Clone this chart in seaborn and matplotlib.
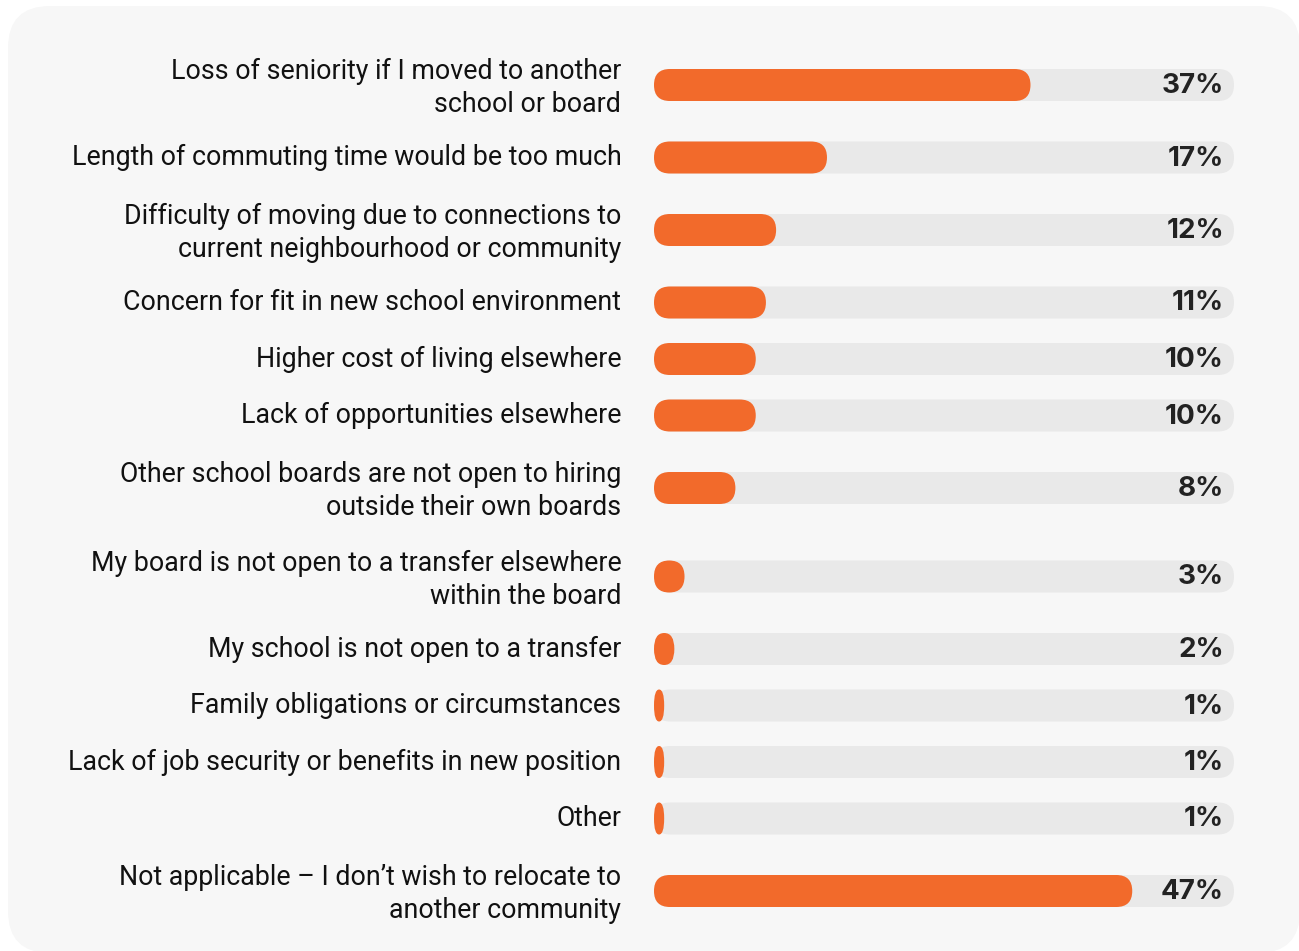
import numpy as np
import pandas as pd
import matplotlib

matplotlib.use("Agg")
import matplotlib.pyplot as plt
import seaborn as sns
from matplotlib.patches import FancyBboxPatch
from matplotlib.transforms import ScaledTranslation

# --- data ---
labels = [
    "Loss of seniority if I moved to another\nschool or board",
    "Length of commuting time would be too much",
    "Difficulty of moving due to connections to\ncurrent neighbourhood or community",
    "Concern for fit in new school environment",
    "Higher cost of living elsewhere",
    "Lack of opportunities elsewhere",
    "Other school boards are not open to hiring\noutside their own boards",
    "My board is not open to a transfer elsewhere\nwithin the board",
    "My school is not open to a transfer",
    "Family obligations or circumstances",
    "Lack of job security or benefits in new position",
    "Other",
    "Not applicable \u2013 I don\u2019t wish to relocate to\nanother community",
]
values = [37, 17, 12, 11, 10, 10, 8, 3, 2, 1, 1, 1, 47]

# --- style / layout ---
W, H = 1299, 951
ORANGE = "#f26a2b"
TRACK_COLOR = "#e9e9e9"
PANEL_COLOR = "#f7f7f7"
TEXT_COLOR = "#111111"
TRACK_MAX = 57          # track length in percent units
BAR_PX = 32             # bar thickness in pixels
AX_LEFT, AX_RIGHT = 654, 1234

sns.set_theme(style="white")
plt.rcParams["font.family"] = ["Roboto", "DejaVu Sans"]

# row layout: more room between rows with two-line labels
n_lines = np.array([lbl.count("\n") + 1 for lbl in labels])
gaps = 56.5 + 16 * (n_lines[:-1] + n_lines[1:] - 2)
centers = 85 + np.concatenate([[0], np.cumsum(gaps)])

df = pd.DataFrame({"label": labels, "value": values, "y": centers,
                   "track": TRACK_MAX})

fig = plt.figure(figsize=(W / 100, H / 100), dpi=100)
fig.patch.set_facecolor("white")

# rounded background panel (figure fraction coords)
pl, pt, pr, pb, rad = 8, 6, 1300, 953, 42
panel = FancyBboxPatch(
    (pl / W, 1 - pb / H), (pr - pl) / W, (pb - pt) / H,
    boxstyle=f"round,pad=0,rounding_size={rad / W}",
    mutation_aspect=W / H, transform=fig.transFigure,
    facecolor=PANEL_COLOR, edgecolor="none", zorder=0,
)
fig.add_artist(panel)

ax = fig.add_axes([AX_LEFT / W, 0, (AX_RIGHT - AX_LEFT) / W, 1])
ax.set_facecolor("none")

min_gap = np.diff(centers).min()
width = BAR_PX / min_gap

sns.barplot(data=df, x="track", y="y", orient="y", native_scale=True,
            color=TRACK_COLOR, saturation=1, width=width, ax=ax, zorder=1)
n_track = len(ax.patches)
sns.barplot(data=df, x="value", y="y", orient="y", native_scale=True,
            color=ORANGE, saturation=1, width=width, ax=ax, zorder=2)

ax.set_xlim(0, TRACK_MAX)
ax.set_ylim(H, 0)

# px per data unit
sx = (AX_RIGHT - AX_LEFT) / TRACK_MAX
r_x = (BAR_PX / 2) / sx

# swap the square bars for rounded ones
for i, p in enumerate(list(ax.patches)):
    x0, y0, w, h = p.get_x(), p.get_y(), p.get_width(), p.get_height()
    if h < 0:
        y0, h = y0 + h, -h
    fc = p.get_facecolor()
    p.remove()
    if w <= 0:
        continue
    dr = min(r_x, w / 2)
    rb = FancyBboxPatch(
        (x0, y0), w, h,
        boxstyle=f"round,pad=0,rounding_size={dr}",
        mutation_aspect=(h / 2) / dr,
        facecolor=fc, edgecolor="none", lw=0,
        zorder=1 if i < n_track else 2,
    )
    ax.add_patch(rb)

# percent labels at the right end of each track
for yc, v in zip(centers, values):
    ax.annotate(f"{v}%", xy=(TRACK_MAX, yc), xytext=(-10, -1),
                textcoords="offset pixels", ha="right", va="center",
                fontsize=20, fontweight="bold", color="#222222",
                family=["Inter", "Roboto", "DejaVu Sans"], zorder=3)

ax.set_yticks(centers)
ax.set_yticklabels(labels, fontsize=19.3, color=TEXT_COLOR, linespacing=1.3)
ax.tick_params(axis="y", length=0, pad=23.5)
ax.tick_params(axis="x", bottom=False, labelbottom=False)
# nudge the category labels up a touch
shift = ScaledTranslation(0, 3 / 100, fig.dpi_scale_trans)
for lbl in ax.get_yticklabels():
    lbl.set_transform(lbl.get_transform() + shift)
ax.set_xlabel("")
ax.set_ylabel("")
sns.despine(ax=ax, left=True, bottom=True)

fig.savefig("out.png", dpi=100)
